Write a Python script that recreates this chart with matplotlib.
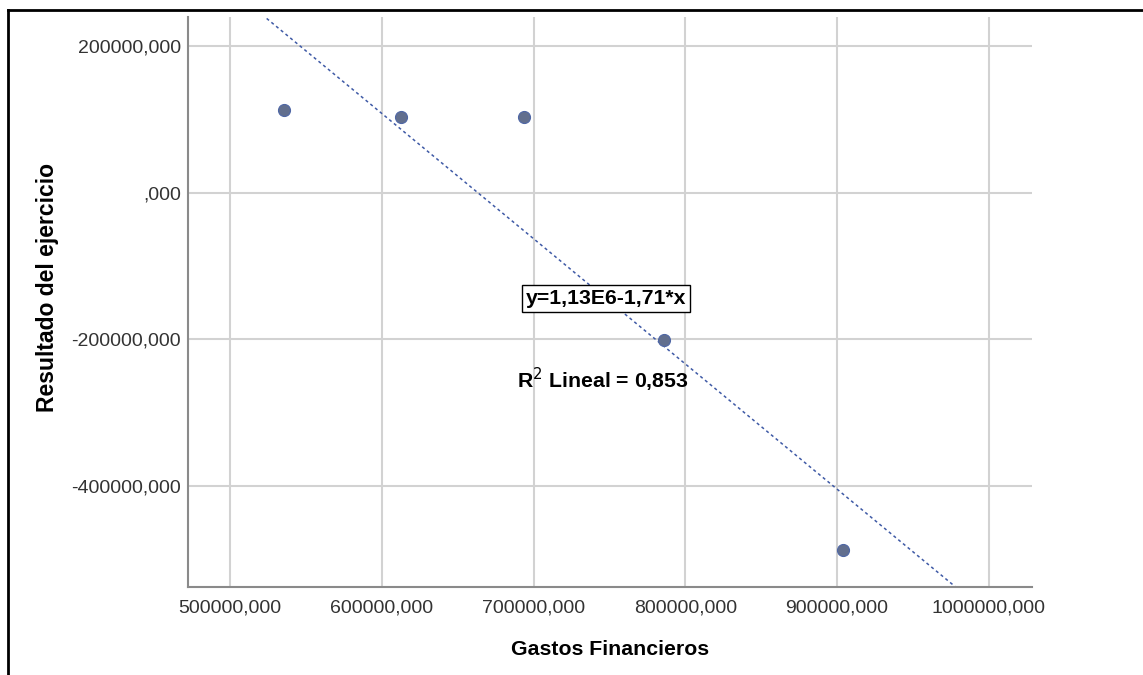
import matplotlib.pyplot as plt
import numpy as np
from matplotlib.lines import Line2D

# values
gastos = [535600, 612700, 693800, 786100, 904100]
resultado = [112900, 103400, 103800, -201400, -487100]
xticks = [500000, 600000, 700000, 800000, 900000, 1000000]
yticks = [-400000, -200000, 0, 200000]
eq_label = 'y=1,13E6-1,71*x'
r2_label = r'R$^2$ Lineal = 0,853'


def fmt(v, pos=None):
    if v == 0:
        return ',000'
    return '%d,000' % v


def main():
    plt.rcParams['font.family'] = ['Liberation Sans', 'DejaVu Sans']
    fig = plt.figure(figsize=(11.43, 6.75), dpi=100)
    ax = fig.add_axes([0.1642, 0.1308, 0.7384, 0.8436])

    xlim = (472100, 1028300)
    ylim = (-537100, 239100)

    ax.scatter(gastos, resultado, s=75, color='#626f8e', edgecolor='#4f67a6',
               linewidth=0.8, zorder=3)

    slope, icpt = np.polyfit(gastos, resultado, 1)
    xs = np.array(xlim)
    ax.plot(xs, icpt + slope * xs, color='#3f5aa6', linestyle=(0, (2, 2)),
            linewidth=1.1, zorder=2)

    ax.set_xlim(*xlim)
    ax.set_ylim(*ylim)
    ax.set_xticks(xticks)
    ax.set_yticks(yticks)
    ax.xaxis.set_major_formatter(plt.FuncFormatter(fmt))
    ax.yaxis.set_major_formatter(plt.FuncFormatter(fmt))
    ax.tick_params(length=0, labelsize=14, colors='#333333')
    ax.tick_params(axis='x', pad=9)
    ax.tick_params(axis='y', pad=5)

    ax.grid(True, color='#d2d2d2', linewidth=1.5)
    ax.set_axisbelow(True)
    for s in ['top', 'right']:
        ax.spines[s].set_visible(False)
    for s in ['left', 'bottom']:
        ax.spines[s].set_color('#8a8a8a')
        ax.spines[s].set_linewidth(1.5)

    ax.set_xlabel('Gastos Financieros', fontsize=15.3, fontweight='bold',
                  labelpad=17)
    ax.set_ylabel('Resultado del ejercicio', fontsize=16.5, fontweight='bold')
    ax.yaxis.set_label_coords(-0.152, 0.526)

    ax.text(747500, -144200, eq_label, fontsize=15.3, fontweight='bold',
            ha='center', va='center', zorder=4,
            bbox=dict(boxstyle='square,pad=0.18', facecolor='white',
                      edgecolor='black', linewidth=1))
    ax.text(745900, -255400, r2_label, fontsize=15.3, fontweight='bold',
            ha='center', va='center', zorder=4)

    # outer frame (top and left edges only)
    W, H = 1143.0, 675.0
    fig.add_artist(Line2D([8 / W, 1.0], [1 - 10 / H, 1 - 10 / H],
                          color='black', linewidth=2))
    fig.add_artist(Line2D([8 / W, 8 / W], [0.0, 1 - 10 / H],
                          color='black', linewidth=2))

    fig.savefig('out.png', dpi=100)


if __name__ == '__main__':
    main()
